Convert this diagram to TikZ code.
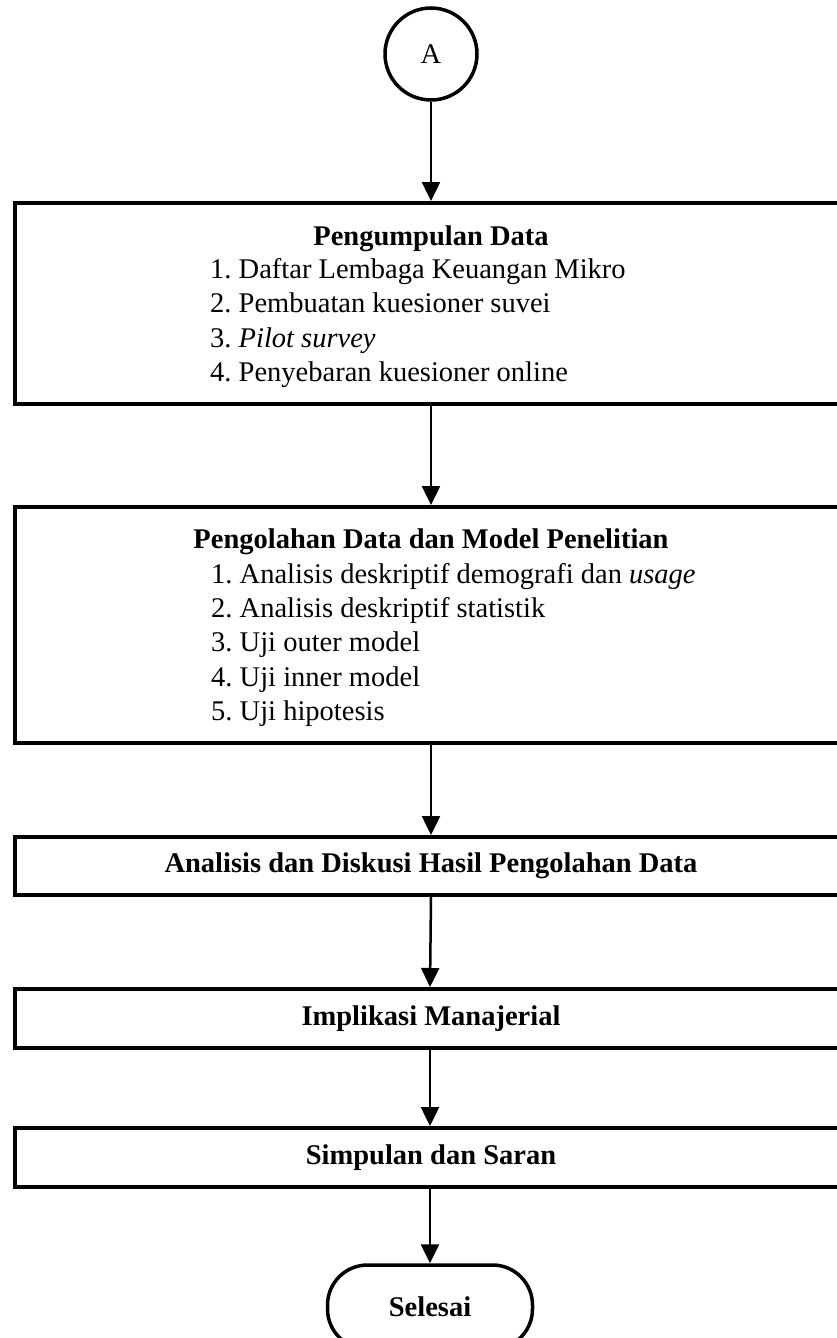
\documentclass[tikz,border=0pt]{standalone}
\usepackage{fontspec}
\setmainfont{Liberation Serif}
\usetikzlibrary{arrows.meta}
\frenchspacing
\begin{document}
\begin{tikzpicture}[x=1pt,y=-1pt,
  every node/.style={font=\fontsize{28.5}{34}\selectfont},
  box/.style={draw,line width=4pt,minimum width=832pt,inner sep=0pt},
  conn/.style={circle,draw,line width=3.5pt,minimum size=92pt,inner sep=0pt},
  term/.style={draw,line width=3.5pt,rounded corners=40pt,minimum width=205pt,minimum height=84pt,inner sep=0pt},
  arr/.style={line width=2.5pt,-{Triangle[length=19pt,width=18pt]}},
  head/.style={anchor=base,font=\fontsize{28.5}{34}\selectfont\bfseries,inner sep=0pt},
  item/.style={anchor=base west,inner sep=0pt}]
\useasboundingbox (0,0) rectangle (837,1338);
\fill[white] (0,0) rectangle (837,1338);

\node[conn] (A) at (431,54) {A};

\node[box,minimum height=201pt] (b1) at (431,303.5) {};
\node[head] (h1) at (431,245) {Pengumpulan Data};
\node[item] (i11) at (210,278) {1. Daftar Lembaga Keuangan Mikro};
\node[item] (i12) at (210,312) {2. Pembuatan kuesioner suvei};
\node[item] (i13) at (210,347) {3. \textit{Pilot survey}};
\node[item] (i14) at (210,381) {4. Penyebaran kuesioner online};

\node[box,minimum height=236pt] (b2) at (431,625) {};
\node[head] (h2) at (431,548) {Pengolahan Data dan Model Penelitian};
\node[item] (i21) at (211,583) {1. Analisis deskriptif demografi dan \textit{usage}};
\node[item] (i22) at (211,617) {2. Analisis deskriptif statistik};
\node[item] (i23) at (211,651) {3. Uji outer model};
\node[item] (i24) at (211,686) {4. Uji inner model};
\node[item] (i25) at (211,720) {5. Uji hipotesis};

\node[box,minimum height=58pt,font=\fontsize{28.5}{34}\selectfont\bfseries] (b3) at (431,866) {Analisis dan Diskusi Hasil Pengolahan Data};
\node[box,minimum height=59pt,font=\fontsize{28.5}{34}\selectfont\bfseries] (b4) at (431,1018.5) {Implikasi Manajerial};
\node[box,minimum height=59pt,font=\fontsize{28.5}{34}\selectfont\bfseries] (b5) at (431,1157.5) {Simpulan dan Saran};

\node[term,font=\fontsize{28.5}{34}\selectfont\bfseries] (end) at (430,1307) {Selesai};

\draw[arr] (A) -- (b1);
\draw[arr] (b1) -- (b2);
\draw[arr] (b2) -- (b3);
\draw[arr] (b3.south) -- ([xshift=-1pt]b4.north);
\draw[arr] ([xshift=-1pt]b4.south) -- ([xshift=-1pt]b5.north);
\draw[arr] ([xshift=-1pt]b5.south) -- (end.north);
\end{tikzpicture}
\end{document}
